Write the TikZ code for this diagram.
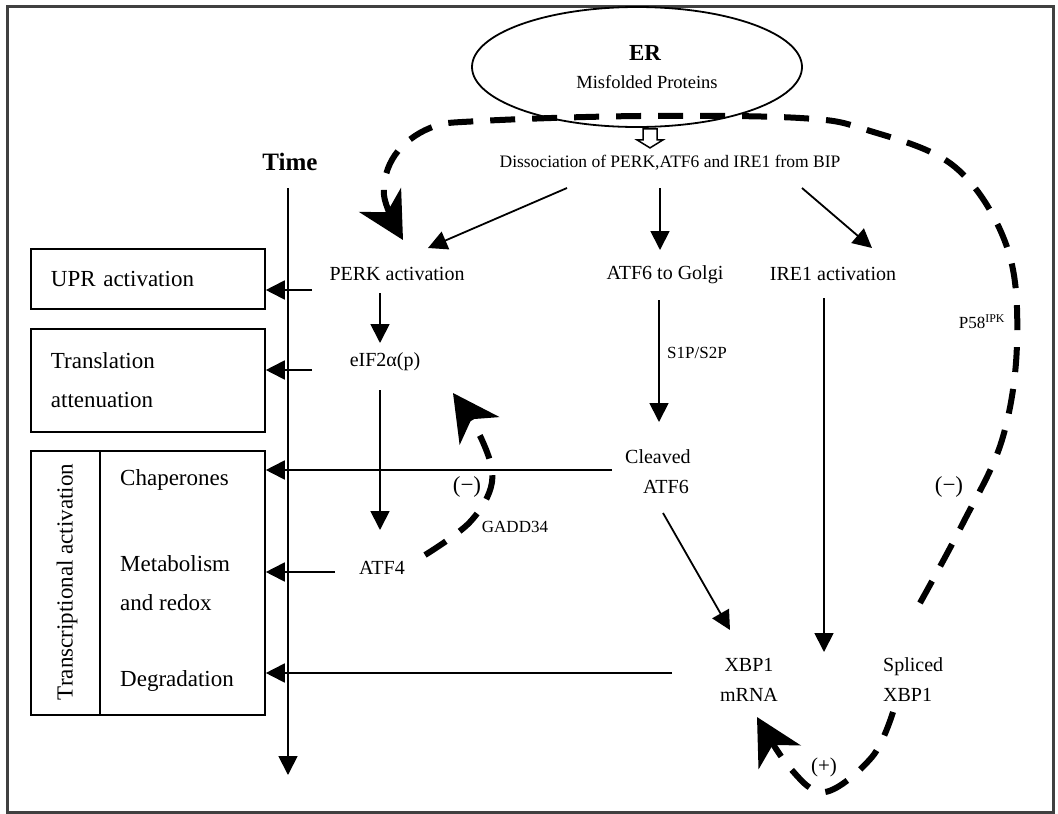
\documentclass[tikz,border=0pt]{standalone}
\usepackage{fontspec}
\setmainfont{Liberation Serif}
\usetikzlibrary{arrows.meta,shapes.geometric,calc}
\begin{document}
\begin{tikzpicture}[x=1pt,y=-1pt,
  thinarrow/.style={line width=1.8pt,-{Triangle[length=19pt,width=19pt]}},
  dasharrow/.style={line width=6pt, dash pattern=on 25pt off 17pt, -{Stealth[length=46pt,width=48pt,inset=14pt]}},
  lbl/.style={font=\fontsize{20}{30}\selectfont, inner sep=0pt},
  sign/.style={font=\fontsize{23}{26}\selectfont, inner sep=0pt},
  small/.style={font=\fontsize{17}{20}\selectfont, inner sep=0pt},
  boxtxt/.style={font=\fontsize{23}{39}\selectfont},
  box/.style={draw, line width=1.8pt, anchor=north west, minimum width=234pt, inner sep=0pt},
]
\useasboundingbox (0,0) rectangle (1058,814);
\draw[line width=3pt, black!75] (7,6) rectangle (1053,812);

% ER
\node[ellipse, draw, line width=1.8pt, minimum width=330pt, minimum height=120pt, inner sep=0pt] (er) at (637,67) {};
\node[font=\bfseries\fontsize{23}{26}\selectfont, inner sep=0pt] (ert) at (645,53) {ER};
\node[font=\fontsize{18.5}{22}\selectfont, inner sep=0pt] (mis) at (647,82) {Misfolded Proteins};
\node[font=\fontsize{17.5}{20}\selectfont, inner sep=0pt] (diss) at (670,163) {Dissociation of PERK,ATF6 and IRE1 from BIP};

% hollow arrow ER -> dissociation
\path ($(er.south)+(6,1)$) coordinate (hs);
\draw[line width=1.5pt, fill=white, line join=miter] (hs) -- ++(0,11) -- ++(-6,0) -- ++(13,8) -- ++(13,-8) -- ++(-6,0) -- ++(0,-11) -- cycle;

% time axis
\node[font=\bfseries\fontsize{25}{28}\selectfont, inner sep=0pt] (time) at (290,162) {Time};
\coordinate (t0) at (288,188);
\coordinate (t1) at (288,775);
\draw[thinarrow] (t0) -- (t1);

% left boxes
\node[box, boxtxt, minimum height=60pt, text width=194pt, inner xsep=20pt, align=left] (upr) at (30,248) {UPR activation};
\node[box, boxtxt, minimum height=103pt, text width=194pt, inner xsep=20pt, align=left] (trans) at (30,328) {Translation\\attenuation};
\node[box, minimum height=264pt] (tbox) at (30,450) {};
\draw[line width=1.8pt] ($(tbox.north west)+(70,0)$) -- ($(tbox.south west)+(70,0)$);
\node[boxtxt, inner sep=0pt, rotate=90] (ta) at (67,582) {Transcriptional activation};
\node[boxtxt, inner sep=0pt, anchor=west] (chap) at (120,480) {Chaperones};
\node[boxtxt, inner sep=0pt, anchor=west, align=left] (meta) at (120,583) {Metabolism\\and redox};
\node[boxtxt, inner sep=0pt, anchor=west] (degr) at (120,681) {Degradation};

% pathway nodes
\node[lbl] (perk) at (397,274) {PERK activation};
\node[lbl] (eif) at (385,362) {eIF2α(p)};
\node[lbl] (atf4) at (382,568) {ATF4};
\node[lbl] (golgi) at (665,275) {ATF6 to Golgi};
\node[lbl] (ire) at (833,274) {IRE1 activation};
\node[lbl, align=left, anchor=west] (cl) at (625,472) {Cleaved\\\hspace*{18pt}ATF6};
\node[lbl, align=center] (xbp) at (749,680) {XBP1\\mRNA};
\node[lbl, align=left, anchor=west] (spl) at (883,680) {Spliced\\XBP1};
\node[small, anchor=west] (s1p) at (667,353) {S1P/S2P};
\node[small] (gadd) at (515,527) {GADD34};
\node[small] (p58) at (982,322) {P58\textsuperscript{IPK}};
\node[sign] (m1) at (467,487) {(−)};
\node[sign] (m2) at (949,487) {(−)};
\node[font=\fontsize{21}{24}\selectfont, inner sep=0pt] (plus) at (824,767) {(+)};

% connector end points
\coordinate (d1) at (567,188); \coordinate (p1) at (428,248);
\coordinate (d2) at (660,188); \coordinate (g1) at (660,250);
\coordinate (d3) at (802,188); \coordinate (i1) at (872,248);
\coordinate (pe1) at (380,293); \coordinate (e1) at (380,343);
\coordinate (e2) at (380,390); \coordinate (a1) at (380,530);
\coordinate (g2) at (659,300); \coordinate (c1) at (659,422);
\coordinate (c2) at (663,513); \coordinate (x1) at (730,630);
\coordinate (i2) at (824,298); \coordinate (x2) at (824,652);
\coordinate (l1) at (312,290);
\coordinate (l2) at (312,370);
\coordinate (l3) at (612,470);
\coordinate (l4) at (335,572);
\coordinate (l5) at (672,673);

\draw[thinarrow] (d1) -- (p1);
\draw[thinarrow] (d2) -- (g1);
\draw[thinarrow] (d3) -- (i1);
\draw[thinarrow] (pe1) -- (e1);
\draw[thinarrow] (e2) -- (a1);
\draw[thinarrow] (g2) -- (c1);
\draw[thinarrow] (c2) -- (x1);
\draw[thinarrow] (i2) -- (x2);
\draw[thinarrow] (l1) -- (l1 -| upr.east);
\draw[thinarrow] (l2) -- (l2 -| trans.east);
\draw[thinarrow] (l3) -- (l3 -| tbox.east);
\draw[thinarrow] (l4) -- (l4 -| tbox.east);
\draw[thinarrow] (l5) -- (l5 -| tbox.east);

% dashed feedback loops
\coordinate (s1) at (920,603); \coordinate (pk) at (403,240);
\draw[dasharrow] plot[smooth, tension=0.6] coordinates {(s1) (962,525) (1002,440) (1017,343) (1007,247) (955,167) (867,130) (800,118) (640,116) (480,121) (430,128) (395,155) (384,195) (pk)};
\coordinate (s2) at (893,712); \coordinate (xt) at (757,717);
\draw[dasharrow] plot[smooth, tension=0.6] coordinates {(s2) (872,757) (825,792) (790,768) (xt)};
\coordinate (g0) at (425,555); \coordinate (et) at (453,393);
\draw[dasharrow] plot[smooth, tension=0.6] coordinates {(g0) (470,522) (492,482) (482,440) (et)};
\end{tikzpicture}
\end{document}
